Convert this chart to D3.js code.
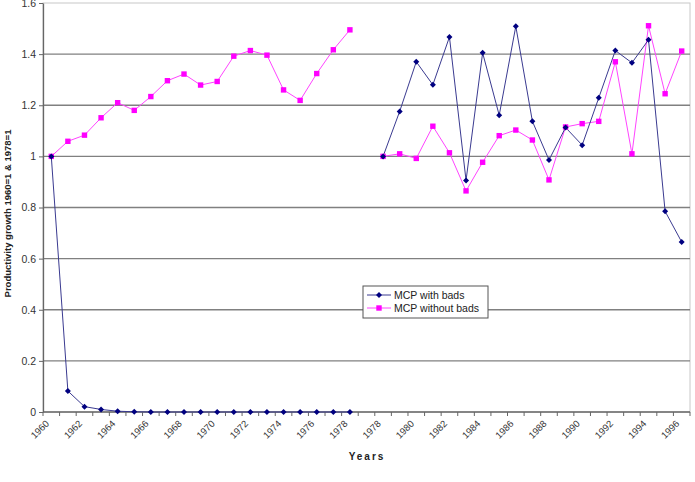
<!DOCTYPE html>
<html>
<head>
<meta charset="utf-8">
<script src="https://cdn.jsdelivr.net/npm/d3@7"></script>
<style>
  body { margin: 0; background: #fff; }
  text { font-family: Arial, "Liberation Sans", sans-serif; }
</style>
</head>
<body>
<div id="chart"></div>
<script>
// categories: 1960-1978 block, an empty slot, then 1978-1996 block
const categories = ['1960','1961','1962','1963','1964','1965','1966','1967','1968','1969',
  '1970','1971','1972','1973','1974','1975','1976','1977','1978','',
  '1978','1979','1980','1981','1982','1983','1984','1985','1986','1987',
  '1988','1989','1990','1991','1992','1993','1994','1995','1996'];

const withBads = [1, 0.082, 0.021, 0.010, 0.003, 0.001, 0, 0, 0, 0,
  0, 0, 0, 0, 0, 0, 0, 0, 0, null,
  1.0, 1.176, 1.370, 1.280, 1.467, 0.906, 1.405, 1.161, 1.509, 1.137,
  0.986, 1.113, 1.044, 1.229, 1.414, 1.366, 1.456, 0.785, 0.665];

const withoutBads = [1.0, 1.059, 1.083, 1.151, 1.21, 1.18, 1.234, 1.296, 1.322, 1.279,
  1.293, 1.392, 1.414, 1.396, 1.26, 1.219, 1.324, 1.417, 1.495, null,
  1.0, 1.010, 0.992, 1.118, 1.014, 0.865, 0.977, 1.081, 1.103, 1.064,
  0.908, 1.115, 1.128, 1.137, 1.370, 1.010, 1.511, 1.245, 1.412];

const yTicks = [0, 0.2, 0.4, 0.6, 0.8, 1, 1.2, 1.4, 1.6];

const width = 695, height = 482;
const margin = {top: 3, right: 5, bottom: 70, left: 43};

const svg = d3.select('#chart').append('svg')
  .attr('width', width)
  .attr('height', height);

const x = d3.scaleBand()
  .domain(d3.range(categories.length))
  .range([margin.left, width - margin.right]);

const y = d3.scaleLinear()
  .domain([0, 1.6])
  .range([height - margin.bottom, margin.top]);

const cx = i => x(i) + x.bandwidth() / 2;

// frame (top & right, light)
svg.append('rect')
  .attr('x', margin.left).attr('y', margin.top)
  .attr('width', width - margin.right - margin.left)
  .attr('height', y(0) - margin.top)
  .attr('fill', 'none')
  .attr('stroke', '#c8c8c8');

// gridlines
svg.append('g')
  .selectAll('line')
  .data(yTicks.filter(d => d > 0 && d < 1.6))
  .join('line')
  .attr('x1', margin.left).attr('x2', width - margin.right)
  .attr('y1', d => y(d)).attr('y2', d => y(d))
  .attr('stroke', '#808080')
  .attr('stroke-width', 1.3);

// y axis
const yAxis = svg.append('g')
  .attr('transform', `translate(${margin.left},0)`)
  .call(d3.axisLeft(y).tickValues(yTicks).tickSize(4).tickSizeOuter(0)
    .tickFormat(d => d3.format('')(+d.toFixed(1))));
yAxis.select('.domain').attr('stroke', '#666').attr('stroke-width', 1.3);
yAxis.selectAll('.tick line').attr('stroke', '#666');
yAxis.selectAll('.tick text').attr('font-size', 10.5).attr('fill', '#333').attr('x', -7);

// x axis: ticks at category boundaries
const xg = svg.append('g');
xg.append('line')
  .attr('x1', margin.left).attr('x2', width - margin.right)
  .attr('y1', y(0)).attr('y2', y(0))
  .attr('stroke', '#666').attr('stroke-width', 1.3);
xg.selectAll('line.tk')
  .data(d3.range(categories.length + 1))
  .join('line')
  .attr('class', 'tk')
  .attr('x1', i => margin.left + i * x.bandwidth())
  .attr('x2', i => margin.left + i * x.bandwidth())
  .attr('y1', y(0)).attr('y2', y(0) + 4)
  .attr('stroke', '#666');
xg.selectAll('text')
  .data(d3.range(0, categories.length, 2))
  .join('text')
  .attr('text-anchor', 'end')
  .attr('font-size', 9.5)
  .attr('fill', '#333')
  .attr('transform', i => `translate(${cx(i) - 4},${y(0) + 10}) rotate(-45)`)
  .attr('dy', '0.35em')
  .text(i => categories[i]);

// axis titles
svg.append('text')
  .attr('transform', `translate(11,${(y(0) + margin.top) / 2 + 6}) rotate(-90)`)
  .attr('text-anchor', 'middle')
  .attr('font-size', 9.5)
  .attr('font-weight', 'bold')
  .attr('fill', '#222')
  .text('Productivity growth 1960=1 & 1978=1');

svg.append('text')
  .attr('x', 367).attr('y', 460)
  .attr('text-anchor', 'middle')
  .attr('font-size', 10)
  .attr('font-weight', 'bold')
  .attr('letter-spacing', 2)
  .attr('fill', '#222')
  .text('Years');

// lines
const line = d3.line()
  .defined(d => d != null)
  .x((d, i) => cx(i))
  .y(d => y(d));

svg.append('path').datum(withoutBads)
  .attr('d', line)
  .attr('fill', 'none')
  .attr('stroke', '#ff44ff')
  .attr('stroke-width', 1);

svg.append('path').datum(withBads)
  .attr('d', line)
  .attr('fill', 'none')
  .attr('stroke', '#3a3a90')
  .attr('stroke-width', 1);

// markers
const pts = (arr) => arr.map((v, i) => ({v, i})).filter(d => d.v != null);

svg.append('g').selectAll('rect')
  .data(pts(withoutBads))
  .join('rect')
  .attr('x', d => cx(d.i) - 2.7).attr('y', d => y(d.v) - 2.7)
  .attr('width', 5.4).attr('height', 5.4)
  .attr('fill', '#ff00ff');

svg.append('g').selectAll('path')
  .data(pts(withBads))
  .join('path')
  .attr('d', d => `M${cx(d.i)},${y(d.v) - 3}l3,3l-3,3l-3,-3z`)
  .attr('fill', '#000080');

// legend
const lg = svg.append('g').attr('transform', 'translate(363,286)');
lg.append('rect')
  .attr('width', 125).attr('height', 32)
  .attr('fill', '#fff')
  .attr('stroke', '#555');
const legendItems = [
  {label: 'MCP with bads', color: '#3a3a90', mark: '#000080', shape: 'diamond'},
  {label: 'MCP without bads', color: '#ff44ff', mark: '#ff00ff', shape: 'square'}
];
legendItems.forEach((d, k) => {
  const yy = 9 + k * 13;
  lg.append('line')
    .attr('x1', 4).attr('x2', 28)
    .attr('y1', yy).attr('y2', yy)
    .attr('stroke', d.color);
  if (d.shape === 'diamond') {
    lg.append('path').attr('d', `M16,${yy - 3}l3,3l-3,3l-3,-3z`).attr('fill', d.mark);
  } else {
    lg.append('rect').attr('x', 13.3).attr('y', yy - 2.7)
      .attr('width', 5.4).attr('height', 5.4).attr('fill', d.mark);
  }
  lg.append('text')
    .attr('x', 31).attr('y', yy + 3.5)
    .attr('font-size', 10.5)
    .attr('fill', '#222')
    .text(d.label);
});
</script>
</body>
</html>
